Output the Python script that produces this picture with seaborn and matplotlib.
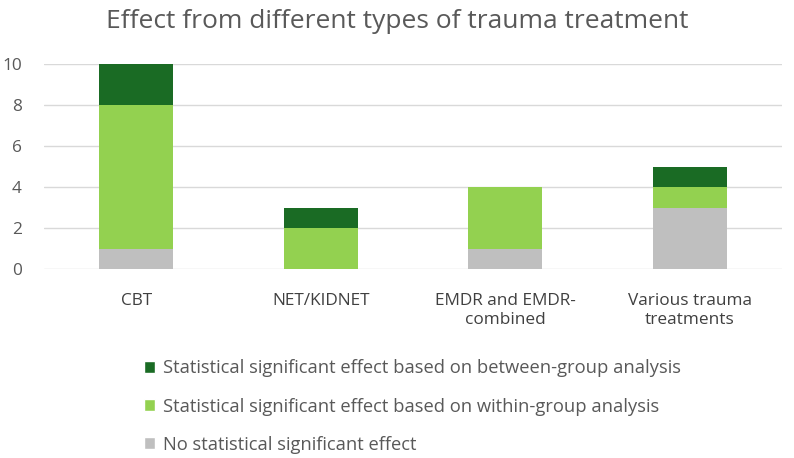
import matplotlib.pyplot as plt
import seaborn as sns
import pandas as pd
from matplotlib.patches import Patch

# Datos del grafico
categorias = ["CBT", "NET/KIDNET", "EMDR and EMDR-\ncombined", "Various trauma\ntreatments"]
sin_efecto = [1, 0, 1, 3]
dentro_grupo = [7, 2, 3, 1]
entre_grupos = [2, 1, 0, 1]

etiquetas = [
    "Statistical significant effect based on between-group analysis",
    "Statistical significant effect based on within-group analysis",
    "No statistical significant effect",
]

COLORES = {
    "ENTRE": "#1a6b24",
    "DENTRO": "#93d150",
    "NINGUNO": "#bfbfbf",
}

df = pd.DataFrame({
    "categoria": categorias,
    "ninguno": sin_efecto,
    "dentro": dentro_grupo,
    "entre": entre_grupos,
})
# acumulados para apilar (se dibuja de atras hacia adelante)
df["nivel_dentro"] = df["ninguno"] + df["dentro"]
df["nivel_total"] = df["nivel_dentro"] + df["entre"]

sns.set_style("white")
plt.rcParams["font.family"] = ["Open Sans", "DejaVu Sans"]

fig = plt.figure(figsize=(7.94, 4.58), dpi=100)
ax = fig.add_axes([44 / 794, 1 - 269 / 458, 738 / 794, 205 / 458])

for col, color in [("nivel_total", COLORES["ENTRE"]),
                   ("nivel_dentro", COLORES["DENTRO"]),
                   ("ninguno", COLORES["NINGUNO"])]:
    sns.barplot(data=df, x="categoria", y=col, color=color, width=0.4,
                saturation=1, linewidth=0, edgecolor="none", ax=ax, zorder=3)

ax.set_ylim(0, 10)
ax.set_yticks(range(0, 11, 2))
ax.set_xlim(-0.5, 3.5)
ax.grid(axis="y", color="#d9d9d9", linewidth=1, zorder=0)
ax.set_axisbelow(True)
for s in ax.spines.values():
    s.set_visible(False)
ax.set_xlabel("")
ax.set_ylabel("")
ax.tick_params(axis="both", length=0, labelsize=12.4, colors="#595959")
ax.tick_params(axis="x", pad=17)
ax.tick_params(axis="y", pad=16)
for t in ax.get_xticklabels():
    t.set_color("#404040")
    t.set_linespacing(1.3)

fig.suptitle("Effect from different types of trauma treatment", x=0.5, y=0.98,
             fontsize=19, color="#595959")

handles = [
    Patch(facecolor=COLORES["ENTRE"]),
    Patch(facecolor=COLORES["DENTRO"]),
    Patch(facecolor=COLORES["NINGUNO"]),
]
leg = fig.legend(handles, etiquetas, loc="upper left",
                 bbox_to_anchor=(137 / 794, 1 - 352 / 458),
                 frameon=False, fontsize=13.2, handlelength=0.6, handleheight=0.6,
                 handletextpad=0.4, labelspacing=1.1, borderaxespad=0)
for t in leg.get_texts():
    t.set_color("#595959")

fig.savefig("out.png", dpi=100)
